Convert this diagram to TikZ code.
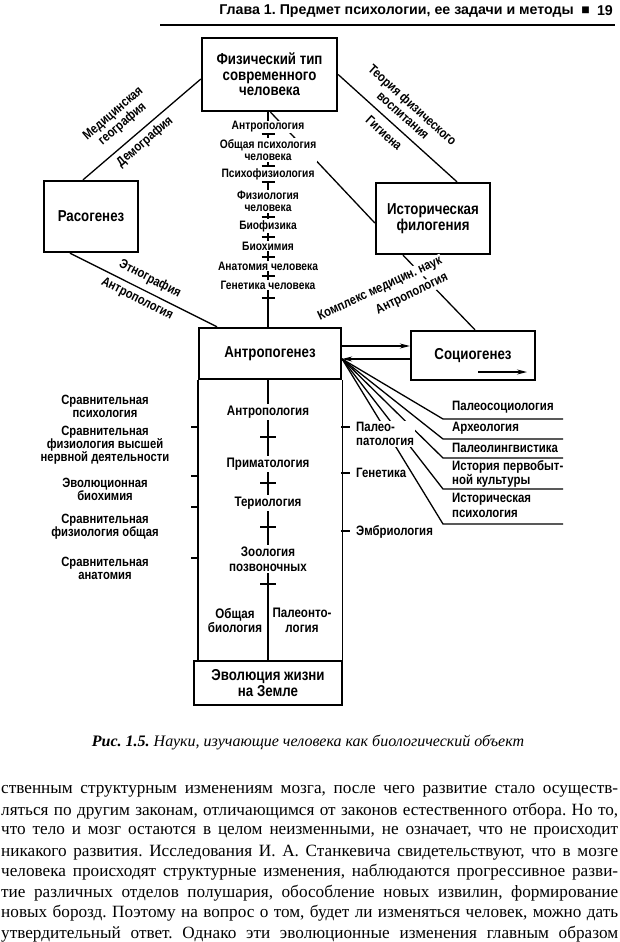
\documentclass[tikz,border=0pt]{standalone}
\usepackage{fontspec}
\setmainfont{Liberation Serif}
\newfontfamily\dg{Liberation Sans}[FakeStretch=0.84]
\newfontfamily\hdfont{Liberation Sans}
\usetikzlibrary{arrows.meta,calc}
\frenchspacing
\newcommand\jline[1]{\makebox[617pt][s]{#1}}
\begin{document}
\begin{tikzpicture}[x=1pt,y=-1pt,
 box/.style={draw, line width=2.3pt, inner sep=0pt, align=center, font=\dg\bfseries\fontsize{15.8}{15.5}\selectfont},
 conn/.style={line width=1.3pt},
 tk/.style={line width=1.3pt},
 arr/.style={line width=1.3pt, -{Stealth[length=10pt,width=5pt]}},
 tl/.style={fill=white, inner sep=1pt, align=center, font=\dg\bfseries\fontsize{12.2}{12}\selectfont},
 bl/.style={fill=white, inner sep=1.5pt, align=center, font=\dg\bfseries\fontsize{13.8}{14.5}\selectfont},
 sl/.style={fill=white, inner sep=1pt, align=center, font=\dg\bfseries\fontsize{13.2}{14}\selectfont},
 ll/.style={inner sep=0pt, align=center, font=\dg\bfseries\fontsize{13.4}{13}\selectfont},
 rl/.style={inner sep=0pt, align=left, anchor=west, font=\dg\bfseries\fontsize{13.6}{14.5}\selectfont},
 ml/.style={fill=white, inner sep=1pt, align=left, anchor=west, font=\dg\bfseries\fontsize{13.6}{14}\selectfont},
 body/.style={anchor=west, inner sep=0pt, font=\fontsize{17.2}{20}\selectfont},
]
\fill[white] (0,0) rectangle (620,942);
\useasboundingbox (0,0) rectangle (620,942);

% header
\node[anchor=east, inner sep=0pt, font=\hdfont\bfseries\fontsize{14.2}{14}\selectfont] (h1) at (574,11) {Глава 1. Предмет психологии, ее задачи и методы};
\node[inner sep=0pt, font=\hdfont\fontsize{14}{14}\selectfont] (h2) at (585.5,11) {■};
\node[anchor=east, inner sep=0pt, font=\hdfont\bfseries\fontsize{14.2}{14}\selectfont] (h3) at (613,11) {19};
\draw[line width=1.2pt] (160,25) -- (615,25);

% boxes
\node[box, minimum width=135pt, minimum height=73pt] (fiz) at (269.5,74.5) {Физический тип\\современного\\человека};
\node[box, minimum width=94pt, minimum height=71pt] (ras) at (91,216.5) {Расогенез};
\node[box, minimum width=114pt, minimum height=71pt] (ist) at (433,218.5) {Историческая\\филогения};
\node[box, minimum width=142pt, minimum height=51pt] (ant) at (270,353.5) {Антропогенез};
\node[box, minimum width=124pt, minimum height=49pt] (soc) at (473,355.5) {\raisebox{2pt}{Социогенез}};
\node[box, minimum width=148pt, minimum height=44pt] (evo) at (268,683) {Эволюция жизни\\на Земле};

% connectors
\coordinate (ax) at (268,0);
\draw[conn] (fiz.south -| ax) -- (ant.north -| ax);
\draw[conn] (ant.south -| ax) -- (evo.north -| ax);
\draw[conn] ([xshift=-8pt]ras.north) -- ([yshift=-4.5pt]fiz.west);
\draw[conn] (fiz.east) -- ([xshift=24pt]ist.north);
\draw[conn] ([xshift=1pt]fiz.south) -- ([yshift=-4.5pt]ist.west);
\draw[conn] ([xshift=-21pt]ras.south) -- ([xshift=-53pt]ant.north);
\draw[conn] ([xshift=-30pt]ist.south) -- ([xshift=2pt]soc.north);
\draw[conn] (ant.south west) -- (ant.south west |- evo.north);
\draw[conn] (ant.south east) -- (ant.south east |- evo.north);

% arrows
\coordinate (a1) at ([yshift=7.5pt]ant.east);
\coordinate (a2) at ([yshift=-5.5pt]ant.east);
\draw[arr] (a1) -- (a1 -| soc.west);
\draw[arr] (a2 -| soc.west) -- (a2);
\draw[arr] ([xshift=5pt,yshift=-16.5pt]soc.center) -- ([xshift=54pt,yshift=-16.5pt]soc.center);

% fan
\foreach \yy in {419,439,458,489,524} {
  \coordinate (fk) at (443,\yy);
  \draw[conn] (a2) -- (fk) -- ++(120,0);
}

% ticks
\foreach \yy in {427,476,507,558} \draw[tk] (199,\yy) -- (191,\yy);
\foreach \yy in {427,473,531} \draw[tk] (341,\yy) -- (350,\yy);

% top column labels
\node[tl] (t1) at (268,127) {Антропология};
\node[tl] (t2) at (268,150) {Общая психология\\человека};
\node[tl] (t3) at (268,174) {Психофизиология};
\node[tl] (t4) at (268,201.5) {Физиология\\человека};
\node[tl] (t5) at (268,226) {Биофизика};
\node[tl] (t6) at (268,246) {Биохимия};
\node[tl] (t7) at (268,266) {Анатомия человека};
\node[tl] (t8) at (268,285) {Генетика человека};
\foreach \yy in {134,166,182,217,237,257,276,298} \draw[conn] (261.5,\yy) -- (274.5,\yy);

% bottom column labels
\node[bl] (c1) at (268,412) {Антропология};
\node[bl] (c2) at (268,464) {Приматология};
\node[bl] (c3) at (268,503) {Териология};
\node[bl] (c4) at (268,559) {Зоология\\позвоночных};
\node[bl, fill=none] (c5) at (235,620.5) {Общая\\биология};
\node[bl, fill=none] (c6) at (302,620.5) {Палеонто-\\логия};
\foreach \yy in {437,483,527,584} \draw[conn] (260,\yy) -- (276,\yy);

% left labels
\node[ll] (l1) at (105,406.5) {Сравнительная\\психология};
\node[ll] (l2) at (105,445.5) {Сравнительная\\физиология высшей\\нервной деятельности};
\node[ll] (l3) at (105,489.5) {Эволюционная\\биохимия};
\node[ll] (l4) at (105,526.5) {Сравнительная\\физиология общая};
\node[ll] (l5) at (105,568) {Сравнительная\\анатомия};

% middle labels
\node[ml] (m1) at (355,434) {Палео-\\патология};
\node[ml] (m2) at (355,473) {Генетика};
\node[ml] (m3) at (355,532) {Эмбриология};

% right labels
\node[rl] (r1) at (452,407) {Палеосоциология};
\node[rl] (r2) at (452,428) {Археология};
\node[rl] (r3) at (452,448) {Палеолингвистика};
\node[rl] (r4) at (452,474) {История первобыт-\\ной культуры};
\node[rl] (r5) at (452,505.5) {Историческая\\психология};

% slanted labels
\node[sl, rotate=40.6] (s1) at (118,119) {Медицинская\\география};
\node[sl, rotate=40.6] (s2) at (145,142) {Демография};
\node[sl, rotate=-42] (s3) at (408,110) {Теория физического\\воспитания};
\node[sl, rotate=-42] (s4) at (384,133) {Гигиена};
\node[sl, rotate=-27] (s5) at (150,279) {Этнография};
\node[sl, rotate=-27] (s6) at (137,299) {Антропология};
\node[sl, rotate=25] (s7) at (380,289) {Комплекс медицин. наук};
\node[sl, rotate=26] (s8) at (412,294) {Антропология};

% caption
\node[inner sep=0pt, font=\fontsize{16}{16}\selectfont] (cap) at (308,742) {\textbf{\textit{Рис. 1.5.}} \textit{Науки, изучающие человека как биологический объект}};

% body text
\node[body] (p1) at (1,791) {\jline{ственным структурным изменениям мозга, после чего развитие стало осуществ-}};
\node[body] (p2) at (1,811.4) {\jline{ляться по другим законам, отличающимся от законов естественного отбора. Но то,}};
\node[body] (p3) at (1,831.8) {\jline{что тело и мозг остаются в целом неизменными, не означает, что не происходит}};
\node[body] (p4) at (1,852.2) {\jline{никакого развития. Исследования И. А. Станкевича свидетельствуют, что в мозге}};
\node[body] (p5) at (1,872.6) {\jline{человека происходят структурные изменения, наблюдаются прогрессивное разви-}};
\node[body] (p6) at (1,893) {\jline{тие различных отделов полушария, обособление новых извилин, формирование}};
\node[body] (p7) at (1,913.4) {\jline{новых борозд. Поэтому на вопрос о том, будет ли изменяться человек, можно дать}};
\node[body] (p8) at (1,933.8) {\jline{утвердительный ответ. Однако эти эволюционные изменения главным образом}};
\end{tikzpicture}
\end{document}
